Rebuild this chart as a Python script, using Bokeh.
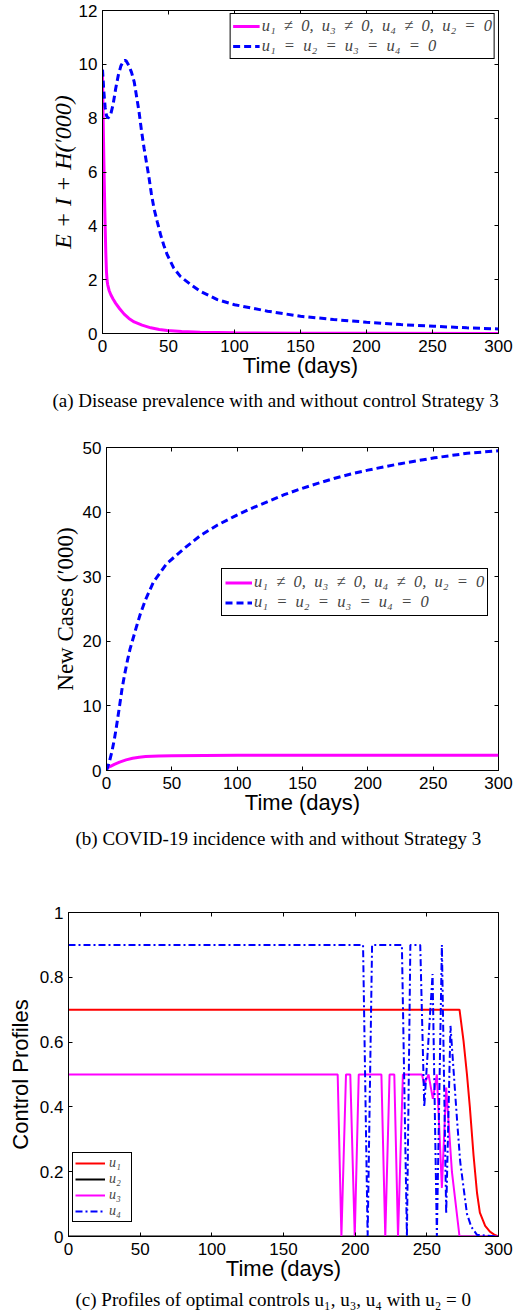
from bokeh.plotting import figure
from bokeh.models import Range1d, LinearAxis, FixedTicker, Legend, LegendItem, Title
from bokeh.embed import file_html
from bokeh.resources import INLINE

# ---------------- data ----------------
x_ticks = [0, 50, 100, 150, 200, 250, 300]

# (a) Disease prevalence E+I+H ('000)
prev_ctrl_t = [0, 0.5, 1, 1.5, 2, 2.5, 3, 3.5, 4, 5, 6.3, 8, 10, 13, 16.4, 20, 24, 30, 36.6, 43, 49,
               60, 74, 100, 150, 200, 300]
prev_ctrl = [9.6, 8.0, 6.5, 5.2, 4.0, 3.0, 2.3, 1.95, 1.8, 1.6, 1.44, 1.28, 1.12, 0.92, 0.72, 0.56, 0.43,
             0.31, 0.21, 0.15, 0.11, 0.07, 0.05, 0.025, 0.01, 0.005, 0.002]
prev_none_t = [0, 1, 2, 3, 4, 6, 8, 10, 12, 14, 16, 17, 18, 20, 22, 24, 26, 27.7, 29.5, 31.5, 33.5,
               35.3, 37, 39, 41.5, 44, 46.5, 49, 54, 59, 67, 74, 87, 100, 125, 150, 175, 200, 226,
               251, 276, 300]
prev_none = [9.8, 9.0, 8.4, 8.1, 8.0, 8.1, 8.5, 9.1, 9.6, 9.95, 10.13, 10.15, 10.12, 9.95, 9.7, 9.35,
             8.75, 8.23, 7.55, 6.88, 6.3, 5.77, 5.2, 4.65, 4.15, 3.67, 3.27, 2.93, 2.43, 2.12, 1.81,
             1.57, 1.26, 1.07, 0.83, 0.64, 0.52, 0.42, 0.33, 0.27, 0.21, 0.17]
prev_y_ticks = [0, 2, 4, 6, 8, 10, 12]

# (b) New cases ('000)
new_ctrl_t = [0, 3, 6, 10, 15, 20, 25, 30, 40, 50, 75, 100, 300]
new_ctrl = [0.3, 0.65, 0.95, 1.3, 1.65, 1.9, 2.05, 2.15, 2.25, 2.3, 2.33, 2.35, 2.35]
new_none_t = [0, 2, 4, 6, 8, 10, 12, 14, 16, 18, 20, 23, 26, 30, 36, 46, 59, 72, 85, 97.5, 110, 123,
              136, 148.6, 161, 174, 187, 200, 225, 251, 276, 300]
new_none = [0, 1.2, 2.8, 4.8, 7.3, 10.0, 12.8, 15.0, 17.0, 18.8, 20.2, 22.3, 24.3, 26.5, 29.2, 32.0,
            34.3, 36.4, 38.0, 39.3, 40.5, 41.6, 42.7, 43.6, 44.4, 45.2, 45.9, 46.5, 47.5, 48.4, 49.1,
            49.5]
new_y_ticks = [0, 10, 20, 30, 40, 50]

# (c) Control profiles
u1_t = [0, 272.8, 275.6, 278, 280, 282.6, 285, 287, 290.7, 294, 297, 300]
u1 = [0.7, 0.7, 0.604, 0.5, 0.4, 0.25, 0.135, 0.074, 0.033, 0.015, 0.006, 0.0]
u2_t = [0, 300]
u2 = [0, 0]
u3_t = [0, 187.8, 190.4, 193.6, 196.6, 199.7, 202.5, 218.3, 221, 224, 227.3, 229.9, 233.3, 246.6,
        248.2, 251.2, 254.2, 257, 260.5, 263.5, 267.5, 272.8, 300]
u3 = [0.5, 0.5, 0, 0.5, 0.5, 0, 0.5, 0.5, 0, 0.5, 0.5, 0, 0.5, 0.5, 0.47, 0.5, 0.425, 0.5, 0.15, 0.46,
      0.2, 0, 0]
u4_t = [0, 205.5, 208.7, 211.8, 232.6, 236.1, 238.5, 245.4, 248.2, 254, 257, 260.5, 263.5, 266.5,
        269.8, 271.4, 273.3, 278, 281, 285, 300]
u4 = [0.9, 0.9, 0, 0.9, 0.9, 0, 0.9, 0.9, 0.4, 0.81, 0, 0.9, 0.07, 0.65, 0.44, 0.34, 0.23, 0.07, 0.03,
      0.005, 0]
ctrl_y_ticks = [0, 0.2, 0.4, 0.6, 0.8, 1]
ctrl_y_labels = ["0", "0.2", "0.4", "0.6", "0.8", "1"]

EN = "\u2002"
leg_ctrl = ("u\u2081" + EN + "\u2260" + EN + "0," + EN + "u\u2083" + EN + "\u2260" + EN + "0," + EN
            + "u\u2084" + EN + "\u2260" + EN + "0," + EN + "u\u2082" + EN + "=" + EN + "0")
leg_none = ("u\u2081" + EN + "=" + EN + "u\u2082" + EN + "=" + EN + "u\u2083" + EN + "=" + EN
            + "u\u2084" + EN + "=" + EN + "0")

SANS = "Liberation Sans"
SERIF = "Liberation Serif"
MAGENTA = "#FF00FF"
BLUE = "#0000FF"
RED = "#FF0000"
W = 519


def make_fig(height, b_left, b_top, b_bottom, y_max, y_ticks):
    p = figure(width=W, height=height, x_range=Range1d(0, 300), y_range=Range1d(0, y_max),
               output_backend="svg", toolbar_location=None,
               min_border_left=b_left, min_border_right=21,
               min_border_top=b_top, min_border_bottom=b_bottom)
    p.xgrid.visible = False
    p.ygrid.visible = False
    p.outline_line_color = "black"
    p.outline_line_alpha = 1.0
    p.outline_line_width = 1
    for ax, ticks in ((p.xaxis[0], x_ticks), (p.yaxis[0], y_ticks)):
        ax.ticker = FixedTicker(ticks=ticks)
        ax.major_tick_in = 4
        ax.major_tick_out = 0
        ax.minor_tick_line_color = None
        ax.axis_line_color = "black"
        ax.major_tick_line_color = "black"
        ax.major_label_text_font = SANS
        ax.major_label_text_font_size = "17px"
        ax.major_label_text_color = "black"
        ax.axis_label_text_color = "black"
    p.xaxis[0].major_label_standoff = 6
    p.yaxis[0].major_label_standoff = 5
    p.xaxis[0].axis_label = "Time (days)"
    p.xaxis[0].axis_label_text_font = SANS
    p.xaxis[0].axis_label_text_font_size = "22px"
    p.xaxis[0].axis_label_text_font_style = "normal"
    p.xaxis[0].axis_label_standoff = -2
    # box ticks on the top and right sides
    for loc, ticks in (("above", x_ticks), ("right", y_ticks)):
        ax = LinearAxis(ticker=FixedTicker(ticks=ticks), major_tick_in=4, major_tick_out=0,
                        minor_tick_line_color=None, axis_line_color=None,
                        major_label_text_font_size="0px", major_label_standoff=0,
                        major_label_overrides={t: "" for t in ticks})
        p.add_layout(ax, loc)
    return p


def add_caption(p, text, offset, standoff):
    p.add_layout(Title(text=text, align="left", offset=offset, standoff=standoff,
                       text_font=SERIF, text_font_size="19px", text_font_style="normal",
                       text_color="black"), "below")


def style_legend(leg, size, label_h, glyph_w):
    leg.border_line_color = "black"
    leg.border_line_width = 1
    leg.border_line_alpha = 1
    leg.background_fill_color = "white"
    leg.background_fill_alpha = 1
    leg.label_text_font = SERIF
    leg.label_text_font_style = "italic"
    leg.label_text_font_size = size
    leg.label_height = label_h
    leg.glyph_height = label_h
    leg.glyph_width = glyph_w
    leg.label_standoff = 2
    leg.spacing = 0
    leg.padding = 3
    leg.margin = 3


# ---------------- (a) ----------------
p1 = make_fig(424, 102, 10, 91, 12, prev_y_ticks)
p1.yaxis[0].axis_label = "E + I + H(\u2032000)"
p1.yaxis[0].axis_label_text_font = SERIF
p1.yaxis[0].axis_label_text_font_style = "italic"
p1.yaxis[0].axis_label_text_font_size = "24px"
p1.yaxis[0].axis_label_standoff = 0
a1 = p1.line(prev_ctrl_t, prev_ctrl, line_color=MAGENTA, line_width=3)
a2 = p1.line(prev_none_t, prev_none, line_color=BLUE, line_width=3, line_dash="7 4")
lg1 = Legend(items=[LegendItem(label=leg_ctrl, renderers=[a1]),
                    LegendItem(label=leg_none, renderers=[a2])], location="top_right")
style_legend(lg1, "16.5px", 14, 27)
lg1.spacing = -3
lg1.padding = 2
lg1.margin = 3
p1.add_layout(lg1)
add_caption(p1, "(a) Disease prevalence with and without control Strategy 3", -50, 14)

# ---------------- (b) ----------------
p2 = make_fig(435, 106, 23, 89, 50, new_y_ticks)
p2.yaxis[0].axis_label = "New Cases (\u2032000)"
p2.yaxis[0].axis_label_text_font = SERIF
p2.yaxis[0].axis_label_text_font_style = "normal"
p2.yaxis[0].axis_label_text_font_size = "23px"
p2.yaxis[0].axis_label_standoff = 2
b1 = p2.line(new_ctrl_t, new_ctrl, line_color=MAGENTA, line_width=3)
b2 = p2.line(new_none_t, new_none, line_color=BLUE, line_width=3, line_dash="7 4")
lg2 = Legend(items=[LegendItem(label=leg_ctrl, renderers=[b1]),
                    LegendItem(label=leg_none, renderers=[b2])], location=(115, 154))
style_legend(lg2, "16.5px", 19, 27)
lg2.margin = 0
p2.add_layout(lg2)
add_caption(p2, "(b) COVID-19 incidence with and without Strategy 3", -31, 16)

# ---------------- (c) ----------------
p3 = make_fig(457, 68, 53, 80, 1, ctrl_y_ticks)
p3.yaxis[0].axis_label = "Control Profiles"
p3.yaxis[0].axis_label_text_font = SANS
p3.yaxis[0].axis_label_text_font_style = "normal"
p3.yaxis[0].axis_label_text_font_size = "22px"
p3.yaxis[0].axis_label_standoff = 4
p3.yaxis[0].major_label_overrides = dict(zip(ctrl_y_ticks, ctrl_y_labels))
c1 = p3.line(u1_t, u1, line_color=RED, line_width=2)
c2 = p3.line(u2_t, u2, line_color="black", line_width=2)
c3 = p3.line(u3_t, u3, line_color=MAGENTA, line_width=2)
c4 = p3.line(u4_t, u4, line_color=BLUE, line_width=2, line_dash="7 3 2 3")
lg3 = Legend(items=[LegendItem(label="u\u2081", renderers=[c1]),
                    LegendItem(label="u\u2082", renderers=[c2]),
                    LegendItem(label="u\u2083", renderers=[c3]),
                    LegendItem(label="u\u2084", renderers=[c4])], location=(4, 14))
style_legend(lg3, "14px", 12, 30)
lg3.padding = 2
lg3.spacing = -2
lg3.label_standoff = 4
lg3.margin = 0
p3.add_layout(lg3)
add_caption(p3, "(c) Profiles of optimal controls u\u2081, u\u2083, u\u2084 with u\u2082 = 0", 7, 7)

open("out.html", "w").write(file_html([p1, p2, p3], INLINE))
